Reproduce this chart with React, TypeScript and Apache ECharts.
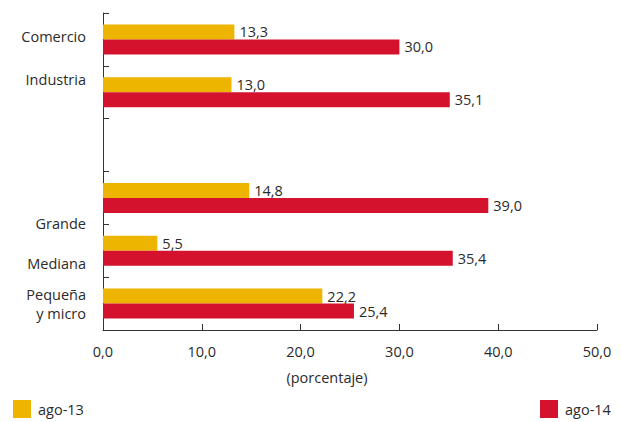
import React, { useEffect, useRef } from "react";
import * as echarts from "echarts";

// Sectors and company sizes (the blank row separates the two groups)
const categories = ["Comercio", "Industria", "", "Grande", "Mediana", "Pequeña\ny micro"];
const seriesNames = ["ago-13", "ago-14"];
const ago13 = [13.3, 13.0, null, 14.8, 5.5, 22.2];
const ago14 = [30.0, 35.1, null, 39.0, 35.4, 25.4];
const xTicks = { min: 0, max: 50, interval: 10 };
const axisTitle = "(porcentaje)";

// vertical nudge (px) of each category label relative to its band centre
const labelShift = [-3, -13, 0, 26, 12.5, 0];

const YELLOW = "#EDB400";
const RED = "#D5122D";
const TEXT = "#2b2b2b";
const FONT = "'Open Sans', 'DejaVu Sans', sans-serif";
const FS = 14.5;

const fmt = (v: number) => v.toFixed(1).replace(".", ",");

export default function App() {
  const ref = useRef<HTMLDivElement>(null);

  useEffect(() => {
    if (!ref.current) return;
    const chart = echarts.init(ref.current, undefined, { renderer: "svg" });

    // one rich style per category row, padded so that the label sits off-centre
    const rich: Record<string, any> = {};
    labelShift.forEach((s, i) => {
      rich["r" + i] = {
        color: TEXT,
        fontSize: FS,
        fontFamily: FONT,
        lineHeight: 19,
        align: "right",
        padding: s >= 0 ? [s * 2, 0, 0, 0] : [0, 0, -s * 2, 0],
      };
    });

    const valueLabel = {
      show: true,
      position: "right" as const,
      distance: 5,
      color: TEXT,
      fontSize: FS,
      fontFamily: FONT,
      formatter: (p: any) => fmt(p.value),
    };

    const legendText = { color: TEXT, fontSize: FS, fontFamily: FONT, padding: [0, 0, 0, 2] };

    chart.setOption({
      animation: false,
      textStyle: { fontFamily: FONT },
      grid: { left: 103, right: 24, top: 13, bottom: 92, containLabel: false },
      legend: [
        {
          data: [seriesNames[0]],
          left: 13,
          top: 400,
          padding: 0,
          itemWidth: 18,
          itemHeight: 18,
          icon: "rect",
          textStyle: legendText,
        },
        {
          data: [seriesNames[1]],
          left: 540,
          top: 400,
          padding: 0,
          itemWidth: 18,
          itemHeight: 18,
          icon: "rect",
          textStyle: legendText,
        },
      ],
      xAxis: {
        type: "value",
        min: xTicks.min,
        max: xTicks.max,
        interval: xTicks.interval,
        name: axisTitle,
        nameLocation: "middle",
        nameGap: 40,
        nameTextStyle: { color: TEXT, fontSize: FS, fontFamily: FONT, padding: [0, 46, 0, 0] },
        axisLine: { show: true, lineStyle: { color: "#333", width: 1 } },
        axisTick: { show: true, inside: true, length: 6, lineStyle: { color: "#333" } },
        axisLabel: {
          color: TEXT,
          fontSize: FS,
          fontFamily: FONT,
          margin: 14,
          formatter: (v: number) => fmt(v),
        },
        splitLine: { show: false },
      },
      yAxis: {
        type: "category",
        inverse: true,
        data: categories,
        boundaryGap: true,
        axisLine: { show: true, lineStyle: { color: "#333", width: 1 } },
        axisTick: { show: true, inside: true, length: 6, alignWithLabel: false, lineStyle: { color: "#333" } },
        axisLabel: {
          color: TEXT,
          fontSize: FS,
          fontFamily: FONT,
          margin: 17,
          align: "right",
          lineHeight: 19,
          interval: 0,
          formatter: (v: string, i: number) => {
            if (!v) return "";
            return v
              .split("\n")
              .map((line) => `{r${i}|${line}}`)
              .join("\n");
          },
          rich,
        },
        splitLine: { show: false },
      },
      series: [
        {
          name: seriesNames[0],
          type: "bar",
          data: ago13,
          barWidth: 15,
          barGap: "0%",
          itemStyle: { color: YELLOW },
          label: valueLabel,
        },
        {
          name: seriesNames[1],
          type: "bar",
          data: ago14,
          barWidth: 15,
          barGap: "0%",
          itemStyle: { color: RED },
          label: valueLabel,
        },
      ],
    });

    return () => chart.dispose();
  }, []);

  return (
    <div
      ref={ref}
      style={{ position: "fixed", left: 0, top: 0, width: 621, height: 422, background: "#fff" }}
    />
  );
}
